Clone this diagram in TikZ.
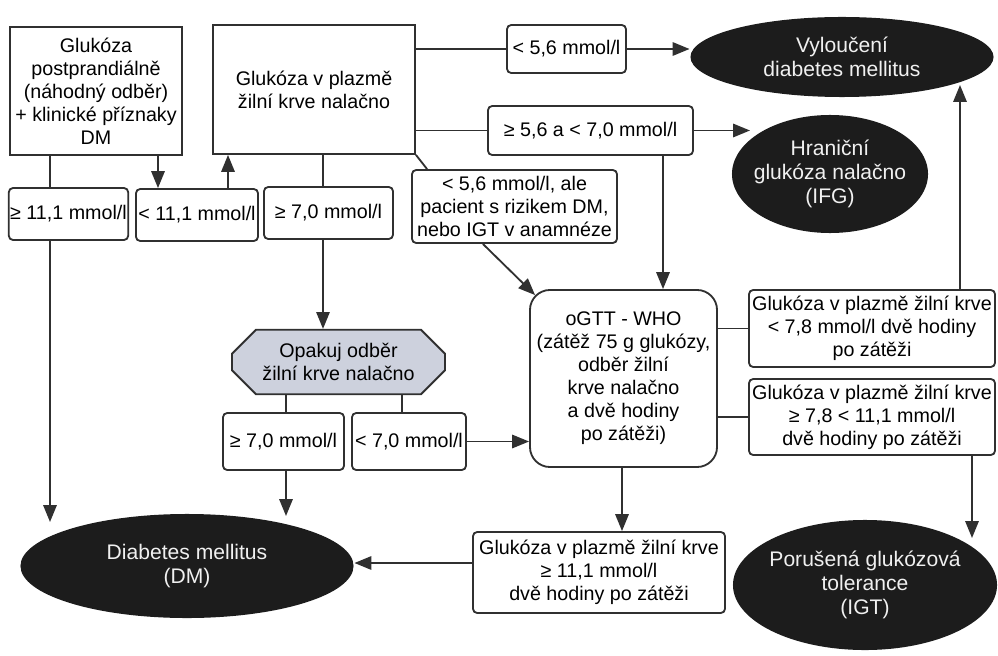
\documentclass[tikz,border=0pt]{standalone}
\usepackage{fontspec}
\setmainfont{Liberation Sans}
\usetikzlibrary{arrows.meta, shapes.geometric, shapes.misc}
\definecolor{cline}{HTML}{303030}
\definecolor{cdark}{HTML}{1C1C1C}
\definecolor{cpale}{HTML}{CDD1DD}
\newcommand{\lblfont}{\fontsize{14}{16.4}\selectfont}
\newcommand{\ovalfont}{\fontsize{15}{17.2}\selectfont}
\tikzset{
  every picture/.style={line width=1.3pt},
  box/.style={draw=cline, align=center, inner sep=1pt, font=\lblfont},
  cond/.style={box, rounded corners=3pt},
  result/.style={ellipse, fill=cdark, text=white!94!black, align=center, inner sep=-6pt, font=\ovalfont},
  arrow/.style={-{Triangle[length=12pt, width=9.5pt]}, draw=cline},
  link/.style={draw=cline},
}

\begin{document}
\begin{tikzpicture}[x=0.025cm, y=-0.025cm]
  \useasboundingbox (0,0) rectangle (998,656);
  % first measurements
  \node[box, minimum width=4.3cm, minimum height=3.2cm] (postp) at (96,91) {Glukóza\\postprandiálně\\(náhodný odběr)\\+ klinické příznaky\\DM};
  \node[box, minimum width=5.05cm, minimum height=3.225cm] (fast) at (314,89.5) {Glukóza v plazmě\\žilní krve nalačno};
  \node[cond, minimum width=2.975cm, minimum height=1.3cm] (l111) at (68.5,214) {≥ 11,1 mmol/l};
  \node[cond, minimum width=3.05cm, minimum height=1.3cm] (lt111) at (197,215) {< 11,1 mmol/l};
  \node[cond, minimum width=3.225cm, minimum height=1.3cm] (ge70a) at (328.5,213) {≥ 7,0 mmol/l};
  \node[cond, minimum width=2.975cm, minimum height=1.2cm] (lt56) at (566.5,49) {< 5,6 mmol/l};
  \node[cond, minimum width=5.125cm, minimum height=1.225cm] (mid56) at (590.5,130.5) {≥ 5,6 a < 7,0 mmol/l};
  \node[cond, minimum width=5.125cm, minimum height=1.825cm] (risk) at (514.5,206.5) {< 5,6 mmol/l, ale\\pacient s rizikem DM,\\nebo IGT v anamnéze};
  % repeat and oGTT
  \node[box, chamfered rectangle, chamfered rectangle xsep=0.3cm, chamfered rectangle ysep=0.3cm, fill=cpale, minimum width=5.325cm, minimum height=1.5cm] (opak) at (338.5,362) {Opakuj odběr\\žilní krve nalačno};
  \node[cond, minimum width=3.025cm, minimum height=1.425cm] (ge70b) at (283.5,441.5) {≥ 7,0 mmol/l};
  \node[cond, minimum width=2.85cm, minimum height=1.425cm] (lt70) at (409,441.5) {< 7,0 mmol/l};
  \node[box, rounded corners=0.5cm, minimum width=4.675cm, minimum height=4.425cm] (ogtt) at (623.5,378.5) {oGTT - WHO\\(zátěž 75 g glukózy,\\odběr žilní\\krve nalačno\\a dvě hodiny\\po zátěži)};
  \node[cond, minimum width=6.15cm, minimum height=1.925cm] (lt78) at (872,328.5) {Glukóza v plazmě žilní krve\\< 7,8 mmol/l dvě hodiny\\po zátěži};
  \node[cond, minimum width=6.15cm, minimum height=1.9cm] (ge78) at (872,417) {Glukóza v plazmě žilní krve\\≥ 7,8 < 11,1 mmol/l\\dvě hodiny po zátěži};
  \node[cond, minimum width=6.3cm, minimum height=2.025cm] (ge111) at (599,572.5) {Glukóza v plazmě žilní krve\\≥ 11,1 mmol/l\\dvě hodiny po zátěži};
  % diagnoses
  \node[result, minimum width=7.575cm, minimum height=2cm] (vyl) at (842,57) {Vyloučení\\diabetes mellitus};
  \node[result, minimum width=4.9cm, minimum height=2.95cm] (ifg) at (830,174) {Hraniční\\glukóza nalačno\\(IFG)};
  \node[result, minimum width=6.6cm, minimum height=3.25cm] (igt) at (865,585) {Porušená glukózová\\tolerance\\(IGT)};
  \node[result, minimum width=8.325cm, minimum height=2.6cm] (dm) at (187,566) {Diabetes mellitus\\(DM)};
  \coordinate (dmtipa) at (50,522);
  \coordinate (dmtipb) at (286,516);
  \coordinate (ifgtip) at (750,130.5);
  \coordinate (vyltip) at (960,85);
  \coordinate (igttip) at (972,538);
  % left column
  \draw[link] (postp.south -| 50,0) -- (l111.north -| 50,0);
  \draw[arrow] (l111.south -| 50,0) -- (dmtipa);
  \draw[arrow] (postp.south -| 158,0) -- (lt111.north -| 158,0);
  \draw[arrow] (lt111.north -| 228,0) -- (fast.south -| 228,0);
  \draw[link] (fast.south -| 323,0) -- (ge70a.north -| 323,0);
  \draw[arrow] (ge70a.south -| 323,0) -- (opak.north -| 323,0);
  \draw[link] (opak.south -| 286,0) -- (ge70b.north -| 286,0);
  \draw[link] (opak.south -| 402,0) -- (lt70.north -| 402,0);
  \draw[arrow] (ge70b.south -| 286,0) -- (dmtipb);
  \draw[arrow] (lt70.east) -- (lt70.east -| ogtt.west);
  % fasting results
  \draw[link] (fast.east |- lt56.west) -- (lt56.west);
  \draw[arrow] (lt56.east) -- (lt56.east -| vyl.west);
  \draw[link] (fast.east |- mid56.west) -- (mid56.west);
  \draw[arrow] (mid56.east) -- (ifgtip);
  \draw[link] (fast.south east) -- ([xshift=0.4cm]risk.north west);
  \draw[arrow] ([xshift=-0.79cm]risk.south) -- ([shift={(0.15cm,-0.15cm)}]ogtt.north west);
  \draw[arrow] (mid56.south -| 663,0) -- (ogtt.north -| 663,0);
  % oGTT results
  \draw[link] (ogtt.east |- lt78.west) -- (lt78.west);
  \draw[link] (ogtt.east |- ge78.west) -- (ge78.west);
  \draw[arrow] (lt78.north -| 960,0) -- (vyltip);
  \draw[arrow] (ge78.south -| 972,0) -- (igttip);
  \draw[arrow] (ogtt.south -| 622,0) -- (ge111.north -| 622,0);
  \draw[arrow] (ge111.west |- 0,563) -- (dm.east |- 0,563);
\end{tikzpicture}
\end{document}
